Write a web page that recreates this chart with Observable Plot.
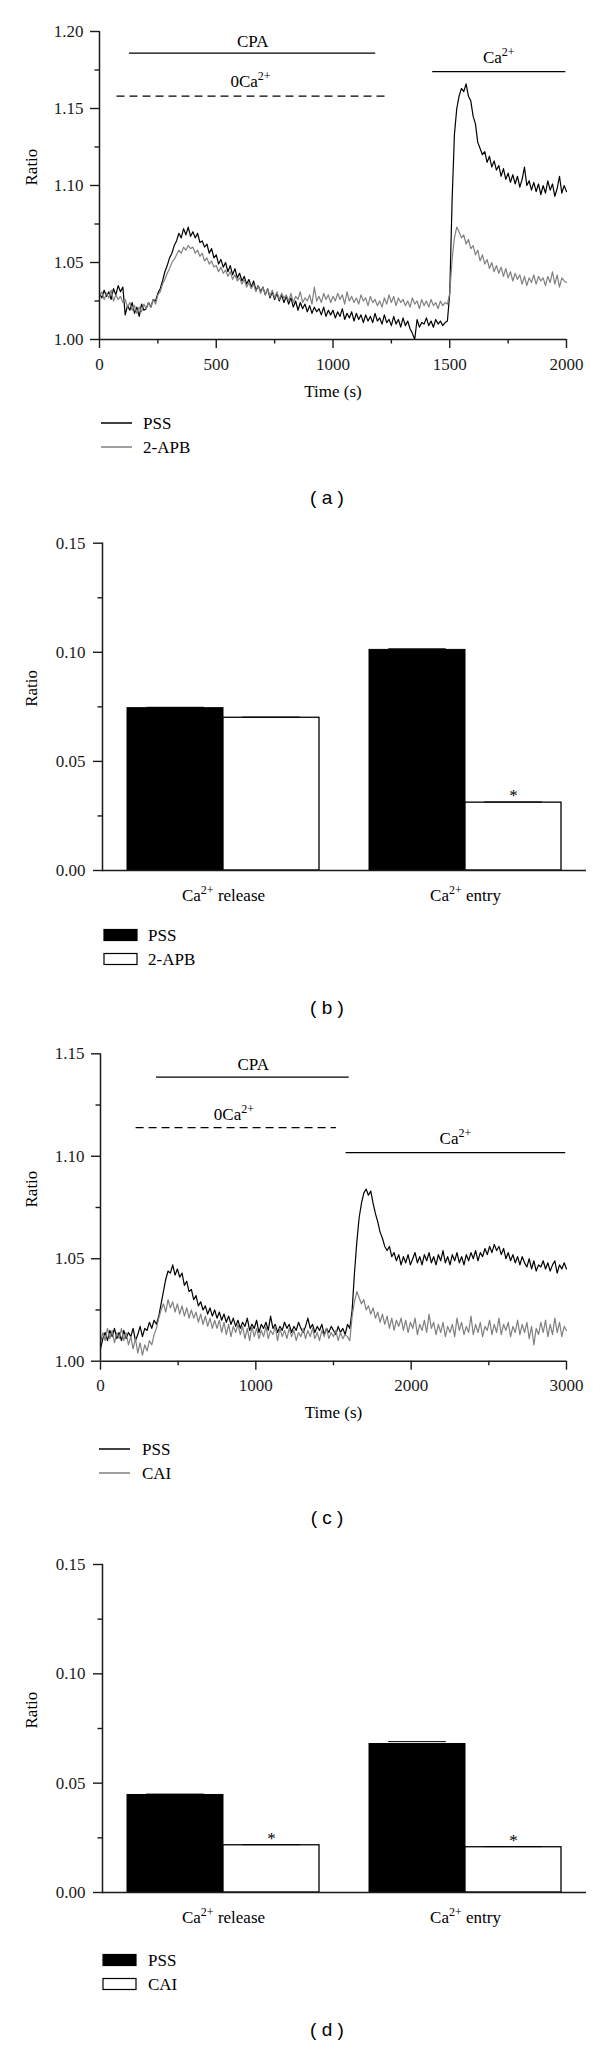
<!DOCTYPE html>
<html><head><meta charset="utf-8">
<script src="https://cdn.jsdelivr.net/npm/d3@7"></script>
<script src="https://cdn.jsdelivr.net/npm/@observablehq/plot@0.6"></script>
<style>
body{margin:0;background:#fff;}
#fig{position:relative;width:600px;height:2045px;font-family:"Liberation Serif",serif;color:#1a1a1a;}
.panel{position:absolute;left:0;}
#overlay{position:absolute;left:0;top:0;}
</style></head><body><div id="fig"></div>
<script>
// ---------------- DATA ----------------
// Panel (a): ratio traces, sampled every 10 s from 0 to 2000 s
const timeA = d3.range(0, 2001, 10);
const pssA = [
1.030,1.027,1.032,1.028,1.031,1.026,1.033,1.029,1.035,1.031,
1.034,1.016,1.022,1.019,1.024,1.017,1.021,1.015,1.023,1.019,
1.020,1.024,1.021,1.026,1.025,1.030,1.033,1.038,1.044,1.048,
1.053,1.056,1.061,1.064,1.069,1.066,1.072,1.068,1.073,1.067,
1.070,1.066,1.069,1.063,1.064,1.060,1.062,1.056,1.059,1.053,
1.055,1.049,1.052,1.047,1.050,1.044,1.048,1.042,1.046,1.040,
1.043,1.038,1.041,1.036,1.039,1.034,1.038,1.032,1.035,1.031,
1.034,1.029,1.033,1.027,1.031,1.026,1.030,1.025,1.029,1.024,
1.028,1.023,1.027,1.021,1.025,1.019,1.024,1.020,1.023,1.018,
1.022,1.017,1.021,1.018,1.020,1.016,1.021,1.015,1.019,1.016,
1.019,1.014,1.018,1.015,1.020,1.013,1.017,1.014,1.018,1.012,
1.017,1.013,1.016,1.011,1.016,1.012,1.015,1.011,1.017,1.012,
1.014,1.010,1.016,1.011,1.013,1.009,1.015,1.010,1.013,1.008,
1.014,1.009,1.012,1.007,1.004,1.000,1.013,1.008,1.011,1.010,
1.014,1.009,1.012,1.008,1.013,1.010,1.012,1.009,1.011,1.012,
1.030,1.090,1.133,1.150,1.158,1.163,1.161,1.166,1.158,1.155,
1.145,1.140,1.128,1.124,1.120,1.122,1.115,1.119,1.112,1.116,
1.110,1.113,1.106,1.111,1.104,1.108,1.102,1.107,1.101,1.106,
1.099,1.104,1.112,1.100,1.103,1.097,1.102,1.096,1.101,1.094,
1.100,1.095,1.103,1.097,1.101,1.093,1.098,1.106,1.095,1.100,
1.096];
const apbA = [
1.028,1.031,1.026,1.030,1.027,1.032,1.025,1.029,1.026,1.028,
1.024,1.026,1.021,1.024,1.019,1.022,1.017,1.021,1.018,1.023,
1.020,1.024,1.021,1.026,1.023,1.029,1.031,1.036,1.039,1.043,
1.046,1.050,1.052,1.055,1.058,1.056,1.060,1.058,1.061,1.059,
1.060,1.056,1.058,1.054,1.056,1.051,1.053,1.049,1.051,1.047,
1.048,1.044,1.047,1.043,1.045,1.041,1.044,1.039,1.042,1.038,
1.040,1.036,1.039,1.034,1.037,1.033,1.036,1.031,1.035,1.030,
1.034,1.029,1.033,1.028,1.032,1.027,1.031,1.026,1.030,1.027,
1.029,1.025,1.030,1.024,1.028,1.026,1.031,1.024,1.027,1.025,
1.029,1.023,1.034,1.025,1.028,1.024,1.030,1.026,1.029,1.024,
1.028,1.025,1.030,1.026,1.029,1.023,1.031,1.025,1.028,1.024,
1.027,1.023,1.029,1.025,1.027,1.022,1.028,1.024,1.026,1.022,
1.025,1.021,1.027,1.023,1.029,1.024,1.028,1.022,1.027,1.024,
1.026,1.022,1.025,1.021,1.027,1.023,1.025,1.020,1.026,1.022,
1.025,1.021,1.026,1.022,1.024,1.020,1.025,1.022,1.024,1.023,
1.030,1.052,1.066,1.073,1.070,1.066,1.068,1.062,1.065,1.059,
1.061,1.055,1.058,1.051,1.055,1.049,1.052,1.046,1.050,1.044,
1.048,1.043,1.047,1.041,1.046,1.040,1.044,1.038,1.043,1.039,
1.042,1.036,1.041,1.035,1.040,1.037,1.042,1.036,1.041,1.038,
1.040,1.035,1.041,1.037,1.044,1.036,1.042,1.034,1.040,1.038,
1.037];
const seriesA = ["PSS", "2-APB"];
const annotA_label = ["CPA", "0Ca^2+", "Ca^2+"];
const annotA_start = [128, 75, 1427];
const annotA_end = [1183, 1237, 1997];
const annotA_level = [1.186, 1.158, 1.174];
const annotA_dashed = [false, true, false];
const annotA_textX = [656, 647, 1710];
const annotA_textY = [1.1937, 1.1677, 1.1829];
const xTicksA = [0, 500, 1000, 1500, 2000];
const xMinorA = [250, 750, 1250, 1750];
const yTicksA = [1.00, 1.05, 1.10, 1.15, 1.20];
const yMinorA = [1.025, 1.075, 1.125, 1.175];

// Panel (b)
const categories = ["Ca^2+ release", "Ca^2+ entry"];
const seriesB = ["PSS", "2-APB"];
const pssB = [0.0744, 0.1011];
const pssErrB = [0.0004, 0.0005];
const apbB = [0.0700, 0.0311];
const apbErrB = [0.0003, 0.0003];
const sigB = [false, true];

// Panel (c): sampled every 15 s from 0 to 3000 s
const timeC = d3.range(0, 3001, 15);
const pssC = [
1.006,1.011,1.014,1.010,1.015,1.012,1.016,1.011,1.014,1.010,
1.015,1.011,1.014,1.012,1.016,1.010,1.013,1.017,1.012,1.016,
1.015,1.019,1.016,1.020,1.018,1.022,1.028,1.034,1.040,1.044,
1.043,1.047,1.042,1.045,1.041,1.043,1.037,1.039,1.034,1.035,
1.030,1.032,1.027,1.029,1.025,1.027,1.023,1.026,1.022,1.025,
1.021,1.024,1.020,1.023,1.019,1.022,1.018,1.021,1.017,1.020,
1.016,1.019,1.017,1.021,1.015,1.018,1.016,1.020,1.014,1.018,
1.016,1.019,1.015,1.022,1.016,1.018,1.014,1.017,1.015,1.019,
1.016,1.018,1.014,1.017,1.015,1.019,1.016,1.014,1.017,1.021,
1.016,1.018,1.014,1.017,1.015,1.018,1.013,1.016,1.014,1.017,
1.015,1.013,1.017,1.014,1.016,1.013,1.018,1.016,1.025,1.043,
1.058,1.070,1.077,1.082,1.084,1.081,1.083,1.077,1.072,1.068,
1.063,1.060,1.056,1.054,1.056,1.051,1.053,1.049,1.052,1.047,
1.051,1.048,1.052,1.047,1.050,1.053,1.048,1.051,1.047,1.052,
1.049,1.053,1.048,1.051,1.047,1.052,1.049,1.054,1.048,1.051,
1.047,1.052,1.049,1.053,1.048,1.051,1.047,1.052,1.049,1.053,
1.050,1.054,1.049,1.053,1.051,1.055,1.052,1.056,1.053,1.057,
1.054,1.056,1.052,1.055,1.050,1.053,1.049,1.052,1.048,1.051,
1.047,1.051,1.048,1.046,1.050,1.045,1.049,1.044,1.047,1.046,
1.049,1.045,1.048,1.044,1.047,1.049,1.043,1.047,1.045,1.048,
1.045];
const caiC = [
1.009,1.014,1.010,1.016,1.011,1.015,1.009,1.014,1.011,1.016,
1.010,1.014,1.008,1.012,1.006,1.011,1.004,1.009,1.003,1.008,
1.005,1.010,1.008,1.013,1.016,1.021,1.025,1.028,1.024,1.030,
1.026,1.029,1.024,1.028,1.023,1.027,1.022,1.026,1.021,1.025,
1.021,1.024,1.019,1.023,1.018,1.022,1.017,1.021,1.016,1.020,
1.016,1.020,1.014,1.019,1.013,1.018,1.012,1.017,1.014,1.018,
1.013,1.017,1.011,1.016,1.010,1.017,1.012,1.016,1.011,1.015,
1.012,1.017,1.011,1.015,1.013,1.017,1.010,1.016,1.012,1.015,
1.011,1.016,1.012,1.015,1.010,1.014,1.012,1.016,1.011,1.015,
1.012,1.016,1.011,1.014,1.010,1.015,1.012,1.016,1.011,1.014,
1.012,1.015,1.010,1.014,1.011,1.013,1.012,1.010,1.022,1.029,
1.034,1.031,1.028,1.030,1.025,1.027,1.023,1.026,1.021,1.024,
1.019,1.023,1.018,1.022,1.016,1.021,1.015,1.020,1.017,1.021,
1.015,1.020,1.014,1.019,1.016,1.021,1.013,1.018,1.015,1.020,
1.014,1.023,1.016,1.019,1.013,1.018,1.014,1.019,1.012,1.017,
1.014,1.018,1.012,1.021,1.015,1.019,1.013,1.017,1.014,1.022,
1.013,1.018,1.014,1.019,1.012,1.017,1.015,1.020,1.013,1.018,
1.014,1.021,1.013,1.018,1.015,1.019,1.012,1.017,1.014,1.020,
1.013,1.018,1.014,1.019,1.011,1.017,1.008,1.016,1.013,1.019,
1.014,1.020,1.012,1.018,1.013,1.021,1.014,1.019,1.012,1.017,
1.015];
const seriesC = ["PSS", "CAI"];
const annotC_label = ["CPA", "0Ca^2+", "Ca^2+"];
const annotC_start = [361, 229, 1581];
const annotC_end = [1601, 1519, 2995];
const annotC_level = [1.1386, 1.114, 1.1018];
const annotC_dashed = [false, true, false];
const annotC_textX = [983, 859, 2285];
const annotC_textY = [1.1448, 1.1204, 1.1088];
const xTicksC = [0, 1000, 2000, 3000];
const xMinorC = [500, 1500, 2500];
const yTicksC = [1.00, 1.05, 1.10, 1.15];
const yMinorC = [1.025, 1.075, 1.125];

// Panel (d)
const seriesD = ["PSS", "CAI"];
const pssD = [0.0446, 0.0679];
const pssErrD = [0.0004, 0.0011];
const caiD = [0.0216, 0.0207];
const caiErrD = [0.0003, 0.0003];
const sigD = [true, true];

const yTicksBar = [0, 0.05, 0.10, 0.15];
const yMinorBar = [0.025, 0.075, 0.125];

// ---------------- DRAWING ----------------
const INK = "#1a1a1a";
const GRAY = "#808080";
const fmt2 = d3.format(".2f");
const fig = document.getElementById("fig");

function supify(root) {
  const ns = "http://www.w3.org/2000/svg";
  root.querySelectorAll("text").forEach(t => {
    const s = t.textContent;
    if (!s.includes("^")) return;
    const m = s.match(/^(.*?)\^(\S+)(.*)$/);
    t.textContent = "";
    const a = document.createElementNS(ns, "tspan"); a.textContent = m[1];
    const b = document.createElementNS(ns, "tspan"); b.textContent = m[2];
    b.setAttribute("font-size", "12px"); b.setAttribute("dy", "-7");
    t.append(a, b);
    if (m[3]) {
      const c = document.createElementNS(ns, "tspan"); c.textContent = m[3]; c.setAttribute("dy", "7");
      t.append(c);
    }
  });
}

function place(svg, top) {
  const d = document.createElement("div");
  d.className = "panel"; d.style.top = top + "px";
  d.append(svg); fig.append(d); supify(svg);
}

const baseStyle = {fontFamily: "'Liberation Serif', serif", fontSize: "17px", color: INK, background: "transparent", overflow: "visible"};

function linePanel(o) {
  const black = o.time.map((t, i) => ({t, v: o.s1[i]}));
  const gray = o.time.map((t, i) => ({t, v: o.s2[i]}));
  const ann = o.annLabel.map((l, i) => ({label: l, x1: o.annStart[i], x2: o.annEnd[i], y: o.annLevel[i], dashed: o.annDashed[i], tx: o.annTextX[i], ty: o.annTextY[i]}));
  return Plot.plot({
    width: 600, height: o.height,
    marginTop: o.mt, marginBottom: o.mb, marginLeft: o.ml, marginRight: o.mr,
    style: baseStyle,
    x: {domain: o.xDomain, label: null},
    y: {domain: o.yDomain, label: null},
    marks: [
      Plot.axisY({ticks: o.yTicks, tickFormat: fmt2, tickSize: 9, tickPadding: 7, strokeWidth: 1.4, label: null}),
      Plot.axisY({ticks: o.yMinor, tickFormat: () => "", tickSize: 4.5, strokeWidth: 1.4, label: null}),
      Plot.axisX({ticks: o.xTicks, tickFormat: d3.format("d"), tickSize: 9, tickPadding: 9, strokeWidth: 1.4, label: null}),
      Plot.axisX({ticks: o.xMinor, tickFormat: () => "", tickSize: 4.5, strokeWidth: 1.4, label: null}),
      Plot.line(black, {x: "t", y: "v", stroke: "#000", strokeWidth: 1.2}),
      Plot.line(gray, {x: "t", y: "v", stroke: GRAY, strokeWidth: 1.2}),
      Plot.ruleX([o.xDomain[0]], {stroke: INK, strokeWidth: 1.5}),
      Plot.ruleY([o.yDomain[0]], {stroke: INK, strokeWidth: 1.5}),
      Plot.ruleY(ann.filter(d => !d.dashed), {x1: "x1", x2: "x2", y: "y", stroke: "#000", strokeWidth: 1.3}),
      Plot.ruleY(ann.filter(d => d.dashed), {x1: "x1", x2: "x2", y: "y", stroke: "#000", strokeWidth: 1.3, strokeDasharray: "8,5"}),
      Plot.text(ann, {x: "tx", y: "ty", text: "label", lineAnchor: "middle", fill: "#000"}),
      Plot.text(["Ratio"], {frameAnchor: "left", rotate: -90, dx: -(o.ml - 31), fill: "#000"}),
      Plot.text(["Time (s)"], {frameAnchor: "bottom", dy: 57, fill: "#000"})
    ]
  });
}

function barPanel(o) {
  const ml = 102, mr = 14, pi = 0.2066, po = pi / 2;
  const step = (600 - ml - mr) / (2 - pi + 2 * po);
  const half = step * (1 - pi) / 2;
  const rows = categories.map((c, i) => ({cat: c, a: o.a[i], ae: o.ae[i], b: o.b[i], be: o.be[i], sig: o.sig[i]}));
  return Plot.plot({
    width: 600, height: o.height,
    marginTop: o.mt, marginBottom: o.mb, marginLeft: ml, marginRight: mr,
    style: baseStyle,
    x: {type: "band", domain: categories, paddingInner: pi, paddingOuter: po, axis: null, label: null},
    y: {domain: [0, 0.15], label: null},
    marks: [
      Plot.axisY({ticks: yTicksBar, tickFormat: fmt2, tickSize: 9, tickPadding: 8, strokeWidth: 1.4, label: null}),
      Plot.axisY({ticks: yMinorBar, tickFormat: () => "", tickSize: 4.5, strokeWidth: 1.4, label: null}),
      Plot.barY(rows, {x: "cat", y: "a", fill: "#000", stroke: "#000", strokeWidth: 1, insetRight: half}),
      Plot.barY(rows, {x: "cat", y: "b", fill: "#fff", stroke: "#000", strokeWidth: 1.3, insetLeft: half}),
      Plot.tickY(rows, {x: "cat", y: d => d.a + d.ae, stroke: "#000", strokeWidth: 1, insetLeft: half * 0.2, insetRight: half * 1.2}),
      Plot.tickY(rows, {x: "cat", y: d => d.b + d.be, stroke: "#000", strokeWidth: 1, insetLeft: half * 1.2, insetRight: half * 0.2}),
      Plot.text(rows.filter(d => d.sig), {x: "cat", y: d => d.b + d.be, text: () => "*", dx: half / 2, dy: -6, lineAnchor: "middle", fill: "#000"}),
      Plot.ruleY([0], {stroke: INK, strokeWidth: 1.5}),
      Plot.frame({anchor: "left", stroke: INK, strokeWidth: 1.5}),
      Plot.text(categories, {x: d => d, frameAnchor: "bottom", dy: 25, lineAnchor: "middle", fill: "#000"}),
      Plot.text(["Ratio"], {frameAnchor: "left", rotate: -90, dx: -(ml - 31), fill: "#000"})
    ]
  });
}

place(linePanel({
  height: 410, mt: 31, mb: 71, ml: 99, mr: 34,
  xDomain: [0, 2000], yDomain: [1.0, 1.2],
  time: timeA, s1: pssA, s2: apbA,
  xTicks: xTicksA, xMinor: xMinorA, yTicks: yTicksA, yMinor: yMinorA,
  annLabel: annotA_label, annStart: annotA_start, annEnd: annotA_end, annLevel: annotA_level,
  annDashed: annotA_dashed, annTextX: annotA_textX, annTextY: annotA_textY
}), 0);

place(barPanel({height: 400, mt: 42.7, mb: 30, a: pssB, ae: pssErrB, b: apbB, be: apbErrB, sig: sigB}), 500);

place(linePanel({
  height: 410, mt: 33.3, mb: 69.3, ml: 100, mr: 34,
  xDomain: [0, 3000], yDomain: [1.0, 1.15],
  time: timeC, s1: pssC, s2: caiC,
  xTicks: xTicksC, xMinor: xMinorC, yTicks: yTicksC, yMinor: yMinorC,
  annLabel: annotC_label, annStart: annotC_start, annEnd: annotC_end, annLevel: annotC_level,
  annDashed: annotC_dashed, annTextX: annotC_textX, annTextY: annotC_textY
}), 1020);

place(barPanel({height: 400, mt: 34, mb: 38, a: pssD, ae: pssErrD, b: caiD, be: caiErrD, sig: sigD}), 1530);

// ---------------- LEGENDS & PANEL TAGS ----------------
const legends = [
  {kind: "line", labels: seriesA, ys: [423, 447], x1: 101, x2: 132, tx: 143},
  {kind: "rect", labels: seriesB, ys: [935, 959], x1: 104, x2: 137, tx: 148},
  {kind: "line", labels: seriesC, ys: [1449, 1473], x1: 99, x2: 130, tx: 142},
  {kind: "rect", labels: seriesD, ys: [1960, 1984], x1: 103, x2: 136, tx: 148}
];
const tags = [{t: "( a )", y: 497}, {t: "( b )", y: 1007}, {t: "( c )", y: 1517}, {t: "( d )", y: 2029}];
let ov = `<svg id="overlay" width="600" height="2045" xmlns="http://www.w3.org/2000/svg" font-family="'Liberation Serif', serif" font-size="17">`;
for (const L of legends) {
  L.labels.forEach((lab, i) => {
    const y = L.ys[i];
    if (L.kind === "line") {
      ov += `<line x1="${L.x1}" x2="${L.x2}" y1="${y}" y2="${y}" stroke="${i === 0 ? "#000" : GRAY}" stroke-width="1.5"/>`;
    } else {
      ov += `<rect x="${L.x1}" y="${y - 5.5}" width="${L.x2 - L.x1}" height="11" fill="${i === 0 ? "#000" : "#fff"}" stroke="#000" stroke-width="1.2"/>`;
    }
    ov += `<text x="${L.tx}" y="${y}" dy="0.35em" fill="#000">${lab}</text>`;
  });
}
for (const T of tags) {
  ov += `<text x="327" y="${T.y}" dy="0.35em" text-anchor="middle" font-family="'Liberation Sans', Arial, sans-serif" font-size="19" fill="#000" xml:space="preserve">${T.t}</text>`;
}
ov += `</svg>`;
fig.insertAdjacentHTML("beforeend", ov);
</script></body></html>
